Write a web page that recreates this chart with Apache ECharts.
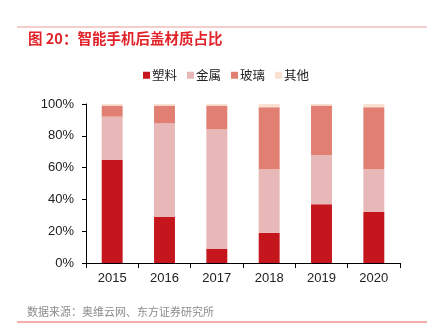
<!DOCTYPE html>
<html><head><meta charset="utf-8">
<script src="https://cdn.jsdelivr.net/npm/echarts@6/dist/echarts.min.js"></script>
<style>html,body{margin:0;padding:0;background:#fff}#c{width:427px;height:336px}</style>
</head><body><div id="c"></div>
<script>
var categories = ['2015','2016','2017','2018','2019','2020'];
var plastic = [65, 29, 9, 19, 37, 32];
var metal = [27, 59, 75, 40, 31, 27];
var glass = [7, 11, 15, 39, 31, 39];
var other = [1, 1, 1, 2, 1, 2];
var seriesNames = ['塑料','金属','玻璃','其他'];
var yTicks = [0,20,40,60,80,100];

var colors = ['#C4161C','#E8B7B7','#E07F72','#FAE0D0'];
var font = "'Liberation Sans', Arial, 'Noto Sans CJK SC', sans-serif";
var chart = echarts.init(document.getElementById('c'), null, {renderer:'canvas'});
var data = [plastic, metal, glass, other];
chart.setOption({
  animation:false,
  color: colors,
  textStyle:{fontFamily:font},
  graphic:[
    {type:'line', shape:{x1:17,y1:27,x2:427,y2:27}, style:{stroke:'#E89A9A', lineWidth:1}},
    {type:'text', left:28, top:31, style:{text:'图 20：智能手机后盖材质占比', fill:'#E0242A', font:"bold 14.5px 'Noto Sans CJK SC', sans-serif"}},
    {type:'text', left:27, top:306, style:{text:'数据来源：奥维云网、东方证券研究所', fill:'#8C8C8C', font:"11px 'Noto Sans CJK SC', sans-serif"}},
    {type:'line', shape:{x1:17,y1:322,x2:427,y2:322}, style:{stroke:'#E55A5A', lineWidth:1}}
  ],
  legend:{
    data: seriesNames, top:64, left:138, itemWidth:7, itemHeight:7, itemGap:10,
    icon:'rect',
    textStyle:{fontSize:12.5, color:'#222', padding:[0,0,0,-3], fontFamily:"'Noto Sans CJK SC', sans-serif"}
  },
  grid:{left:86, right:27, top:104, bottom:73, containLabel:false},
  xAxis:{
    type:'category', data:categories,
    axisLine:{lineStyle:{color:'#000', width:1}},
    axisTick:{show:true, alignWithLabel:false, length:5, lineStyle:{color:'#000'}},
    axisLabel:{fontSize:13, color:'#222', margin:9}
  },
  yAxis:{
    type:'value', min:0, max:100, interval:20,
    axisLine:{show:true, lineStyle:{color:'#000'}},
    axisTick:{show:true, length:4, inside:false, lineStyle:{color:'#000'}},
    splitLine:{show:false},
    axisLabel:{fontSize:13, color:'#222', margin:12, formatter:function(v){return v+'%';}}
  },
  series: seriesNames.map(function(n,i){
    return {name:n, type:'bar', stack:'a', barWidth:'40%', data:data[i],
      itemStyle:{color:colors[i]}};
  })
});
</script></body></html>
